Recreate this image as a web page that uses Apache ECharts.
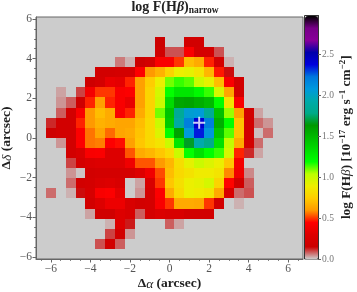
<!DOCTYPE html>
<html><head><meta charset="utf-8"><style>html,body{margin:0;padding:0;background:#fff}#c{width:357px;height:292px}</style>
<script src="https://cdn.jsdelivr.net/npm/echarts@6/dist/echarts.min.js"></script></head><body><div id="c"></div>
<script>
const _ = null;
const xCells = [-6,-5.5,-5,-4.5,-4,-3.5,-3,-2.5,-2,-1.5,-1,-0.5,0,0.5,1,1.5,2,2.5,3,3.5,4,4.5,5];
const yCells = [4.84,4.33,3.82,3.31,2.80,2.30,1.79,1.28,0.77,0.26,-0.25,-0.76,-1.27,-1.78,-2.28,-2.79,-3.30,-3.81,-4.32,-4.83,-5.34];
const row00 = [_,_,_,_,_,_,_,_,_,_,_,.15,_,_,.2,.2,_,_,_,_,_,_,_];
const row01 = [_,_,_,_,_,_,_,_,_,_,_,.18,.09,.09,.42,.22,.22,.09,_,_,_,_,_];
const row02 = [_,_,_,_,_,_,_,.06,.02,.15,.2,.42,.42,.5,.7,.65,.48,.22,.02,_,_,_,_];
const row03 = [_,_,_,_,_,.2,.2,.22,.22,.44,.6,.67,.78,.9,.92,.85,.68,.47,.14,_,_,_,_];
const row04 = [_,_,_,_,.17,.22,.35,.33,.48,.62,.75,.9,1.1,1.15,1.12,1.0,.92,.7,.42,.2,_,_,_];
const row05 = [_,.03,_,.1,.4,.5,.5,.42,.44,.62,.78,.97,1.19,1.3,1.3,1.22,1.15,.97,.63,.2,_,_,_];
const row06 = [_,.04,.08,.17,.48,.62,.48,.42,.35,.62,.78,1.0,1.35,1.58,1.6,1.55,1.5,1.2,.85,.42,_,_,_];
const row07 = [_,.08,.2,.42,.6,.7,.65,.42,.48,.65,.78,1.1,1.45,1.85,2.05,2.07,1.85,1.47,1.07,.62,.2,.03,_];
const row08 = [.12,.2,.2,.48,.6,.67,.65,.63,.63,.7,.8,1.0,1.42,1.9,2.2,2.42,2.2,1.55,1.2,.72,.2,.07,.04];
const row09 = [.17,.2,.2,.44,.56,.63,.55,.63,.65,.72,.8,.95,1.2,1.6,2.08,2.35,2.1,1.45,1.12,.72,.2,.01,.07];
const row10 = [_,.04,.2,.44,.56,.57,.44,.46,.62,.73,.8,.85,1.0,1.3,1.68,1.94,1.8,1.33,1.02,.65,.2,.07,_];
const row11 = [_,_,.2,.25,.42,.43,.3,.3,.53,.65,.68,.73,.8,1.0,1.19,1.33,1.2,1.15,.97,.48,.12,.03,_];
const row12 = [_,_,.1,.22,.27,.3,.3,.3,.38,.53,.53,.6,.68,.82,.92,1.0,.95,.9,.73,.4,_,_,_];
const row13 = [_,_,.04,.005,.2,.22,.22,.22,.22,.3,.38,.52,.7,.8,.84,.88,.88,.85,.58,.38,.05,_,_];
const row14 = [_,_,.07,.2,.22,.27,.3,.25,_,.03,.25,.5,.73,.83,.9,.92,.97,.78,.45,.18,.08,_,_];
const row15 = [.07,_,.02,.14,.24,.42,.44,.33,_,.04,.22,.44,.65,.8,.9,.88,.85,.65,.25,.07,.09,_,_];
const row16 = [_,_,_,_,.2,.3,.37,.37,.25,.2,.22,.42,.5,.65,.65,.64,.5,.2,_,.02,_,_,_];
const row17 = [_,_,_,_,.03,.18,.18,.3,.25,.08,.22,.28,.25,.25,.2,.2,.2,_,_,_,_,_,_];
const row18 = [_,_,_,_,_,_,.02,.3,.13,_,_,_,.08,.03,_,_,_,_,_,_,_,_,_];
const row19 = [_,_,_,_,_,_,.1,.2,.04,_,_,_,_,_,_,_,_,_,_,_,_,_,_];
const row20 = [_,_,_,_,_,.09,.2,.08,_,_,_,_,_,_,_,_,_,_,_,_,_,_,_];
const rows = [row00,row01,row02,row03,row04,row05,row06,row07,row08,row09,row10,row11,row12,row13,row14,row15,row16,row17,row18,row19,row20];
const centre = [[1.5,0.77]];
const xTicks = [-6,-4,-2,0,2,4,6];
const yTicks = [-6,-4,-2,0,2,4,6];
const minorTicks = [-6.5,-6,-5.5,-5,-4.5,-4,-3.5,-3,-2.5,-2,-1.5,-1,-0.5,0,0.5,1,1.5,2,2.5,3,3.5,4,4.5,5,5.5,6,6.5];
const barTicks = [0,0.5,1,1.5,2,2.5];
const cmap = ['#cccccc','#cc0000','#dd0000','#ff0000','#ff9900','#ffcc00','#eeee00','#bbff00','#00ff00','#00dd00','#00bb00','#009900','#00aa88','#00aaaa','#0099dd','#0077dd','#0000dd','#0000aa','#880099','#770088','#000000'];

const data = [];
rows.forEach((row,r)=>row.forEach((v,c)=>{ if(v!==null) data.push([xCells[c],yCells[r],v]); }));
const minus = v => String(v).replace('-','\u2212');
const serif = 'Liberation Serif';
const grey = '#666';
const lab = {fontFamily:serif,fontSize:11.5,color:'#555'};
const chart = echarts.init(document.getElementById('c'),null,{renderer:'canvas'});
const boldS = {fontFamily:serif,fontWeight:'bold',fontSize:13.5,color:'#222'};
const italS = {fontFamily:serif,fontStyle:'italic',fontSize:13.5,color:'#222'};
chart.setOption({
  animation:false,
  backgroundColor:'#fff',
  title:{text:'{b|log F(H}{i|β}{b|)}{s|narrow}',left:170,textAlign:'center',top:-6,textStyle:{rich:{
    b:{...boldS,fontSize:14},i:{...italS,fontSize:14},s:{...boldS,fontSize:9.5,verticalAlign:'bottom',lineHeight:17,padding:[3,0,0,0]}}}},
  visualMap:[{type:'continuous',min:0,max:2.98,dimension:2,seriesIndex:0,show:true,calculable:false,hoverLink:false,
    left:305,top:16,itemWidth:13,itemHeight:243,padding:0,text:null,showLabel:false,
    inRange:{color:cmap},outOfRange:{color:'#ccc'},borderWidth:0}],
  grid:[
    {left:36,right:54,top:17,height:242,show:true,outerBoundsMode:'none',backgroundColor:'#cccccc',borderColor:grey,borderWidth:1},
    {left:304.5,width:13.5,top:15.5,height:243.5,show:true,outerBoundsMode:'none',backgroundColor:'transparent',borderColor:'#333',borderWidth:1}
  ],
  xAxis:[
    {type:'value',gridIndex:0,min:-6.75,max:6.75,position:'bottom',
      axisLine:{show:true,onZero:false,lineStyle:{color:grey}},splitLine:{show:false},
      axisTick:{show:true,length:3.5,inside:false,customValues:xTicks,lineStyle:{color:grey}},
      axisLabel:{...lab,margin:4,customValues:xTicks,formatter:minus},
      name:'{b|\u0394}{i|\u03b1}{b| (arcsec)}',nameLocation:'middle',nameGap:18,nameMoveOverlap:false,
      nameTextStyle:{rich:{b:boldS,i:italS}}},
    {type:'value',gridIndex:0,min:-6.75,max:6.75,position:'bottom',
      axisLine:{show:false,onZero:false},splitLine:{show:false},axisLabel:{show:false},
      axisTick:{show:true,length:1.8,customValues:minorTicks,lineStyle:{color:grey}}},
    {type:'value',gridIndex:1,min:0,max:1,show:false}
  ],
  yAxis:[
    {type:'value',gridIndex:0,min:-6.1,max:6.1,position:'left',
      axisLine:{show:true,onZero:false,lineStyle:{color:grey}},splitLine:{show:false},
      axisTick:{show:true,length:3.5,customValues:yTicks,lineStyle:{color:grey}},
      axisLabel:{...lab,margin:4,customValues:yTicks,formatter:minus},
      name:'{b|\u0394}{i|\u03b4}{b| (arcsec)}',nameLocation:'middle',nameGap:22,nameRotate:90,nameMoveOverlap:false,
      nameTextStyle:{rich:{b:boldS,i:italS}}},
    {type:'value',gridIndex:0,min:-6.1,max:6.1,position:'left',
      axisLine:{show:false,onZero:false},splitLine:{show:false},axisLabel:{show:false},
      axisTick:{show:true,length:1.8,customValues:minorTicks,lineStyle:{color:grey}}},
    {type:'value',gridIndex:1,min:0,max:2.98,position:'right',
      axisLine:{show:true,onZero:false,lineStyle:{color:'#333'}},splitLine:{show:false},
      axisTick:{show:true,length:3,customValues:barTicks,lineStyle:{color:grey}},
      axisLabel:{fontFamily:serif,fontSize:9.5,color:'#777',margin:4,customValues:barTicks,formatter:v=>v.toFixed(1)},
      name:'{b|log F(H}{i|\u03b2}{b|) [10}{u|\u221217}{b| erg s}{u|\u22121}{b| cm}{u|\u22122}{b|]}',
      nameLocation:'middle',nameGap:20,nameRotate:90,nameMoveOverlap:false,
      nameTextStyle:{rich:{b:{...boldS,fontSize:13.3},i:{...italS,fontSize:13.3},u:{...boldS,fontSize:9,verticalAlign:'top',lineHeight:17}}}}
  ],
  series:[
    {type:'custom',coordinateSystem:'cartesian2d',xAxisIndex:0,yAxisIndex:0,data:data,encode:{x:0,y:1},silent:true,clip:true,
      renderItem:(params,api)=>{
        const a=api.coord([api.value(0)-0.25,api.value(1)+0.2545]);
        const b=api.coord([api.value(0)+0.25,api.value(1)-0.2545]);
        const x0=Math.round(a[0]),y0=Math.round(a[1]),x1=Math.round(b[0]),y1=Math.round(b[1]);
        return {type:'rect',shape:{x:x0,y:y0,width:x1-x0,height:y1-y0},style:{fill:api.visual('color')}};
      }},
    {type:'scatter',xAxisIndex:0,yAxisIndex:0,data:centre,silent:true,symbol:'path://M4.2 0h1.6v4.2H10v1.6H5.8V10H4.2V5.8H0V4.2h4.2z',symbolSize:12,itemStyle:{color:'#fff'},z:5}
  ]
});
</script></body></html>
